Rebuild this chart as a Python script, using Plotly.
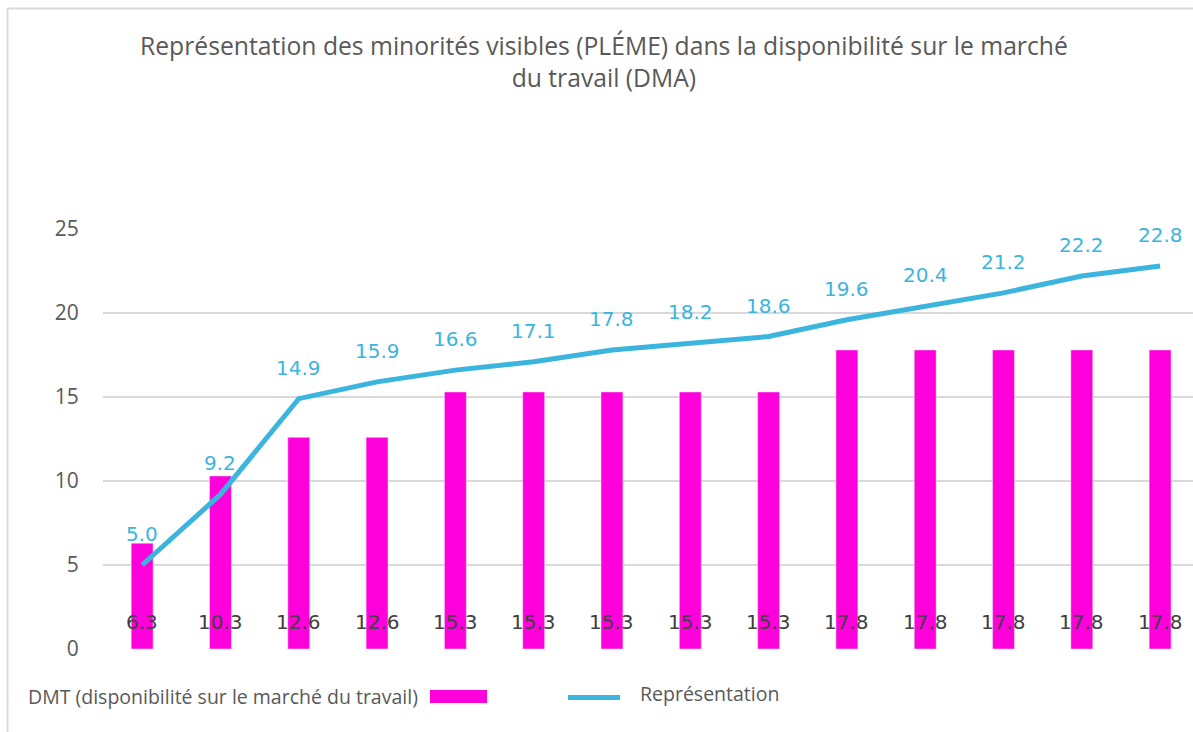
import plotly.graph_objects as go

categories = [f"C{i+1}" for i in range(14)]
dmt = [6.3, 10.3, 12.6, 12.6, 15.3, 15.3, 15.3, 15.3, 15.3, 17.8, 17.8, 17.8, 17.8, 17.8]
representation = [5.0, 9.2, 14.9, 15.9, 16.6, 17.1, 17.8, 18.2, 18.6, 19.6, 20.4, 21.2, 22.2, 22.8]
y_ticks = [0, 5, 10, 15, 20, 25]

MAGENTA = "#FF00DD"
BLUE = "#3BB4DE"
GRAY = "#595959"
FONT = "Open Sans"
NUMFONT = "DejaVu Sans"

fig = go.Figure()
xs = list(range(len(categories)))
fig.add_trace(go.Bar(x=xs, y=dmt, marker_color=MAGENTA, width=0.28,
                     name="DMT (disponibilité sur le marché du travail)", hoverinfo="y"))
fig.add_trace(go.Scatter(x=xs, y=representation, mode="lines",
                         line=dict(color=BLUE, width=5), name="Représentation"))

annotations = []
for i, v in enumerate(dmt):
    annotations.append(dict(x=i, y=0, xref="x", yref="y", text=f"{v:.1f}", showarrow=False,
                            yshift=27, font=dict(family=NUMFONT, size=20, color="#404040")))
for i, v in enumerate(representation):
    annotations.append(dict(x=i, y=v, xref="x", yref="y", text=f"{v:.1f}", showarrow=False,
                            yshift=31, font=dict(family=NUMFONT, size=20, color=BLUE)))

W, H = 1193, 732
L, R, T, B = 103, 0, 229, 83
pw, ph = W - L - R, H - T - B
def px(x):
    return (x - L) / pw
def py(y):
    return (H - B - y) / ph

# custom legend
annotations.append(dict(xref="paper", yref="paper", x=px(26), y=py(696), xanchor="left", yanchor="middle",
                        text="DMT (disponibilité sur le marché du travail)", showarrow=False,
                        font=dict(family=FONT, size=19.5, color=GRAY)))
annotations.append(dict(xref="paper", yref="paper", x=px(638), y=py(693), xanchor="left", yanchor="middle",
                        text="Représentation", showarrow=False,
                        font=dict(family=FONT, size=19.5, color=GRAY)))
# title
annotations.append(dict(xref="paper", yref="paper", x=px(604), y=py(61), xanchor="center", yanchor="middle",
                        text="Représentation des minorités visibles (PLÉME) dans la disponibilité sur le marché<br>du travail (DMA)",
                        showarrow=False, align="center",
                        font=dict(family=FONT, size=24.7, color=GRAY)))

shapes = [
    dict(type="rect", xref="paper", yref="paper", x0=px(430), x1=px(487), y0=py(703), y1=py(690),
         fillcolor=MAGENTA, line=dict(width=0)),
    dict(type="line", xref="paper", yref="paper", x0=px(568), x1=px(620), y0=py(697.5), y1=py(697.5),
         line=dict(color=BLUE, width=5)),
    dict(type="line", xref="paper", yref="paper", x0=px(7.5), x1=px(7.5), y0=py(8.5), y1=py(740),
         line=dict(color="#D9D9D9", width=2)),
    dict(type="line", xref="paper", yref="paper", x0=px(7.5), x1=px(1200), y0=py(8.5), y1=py(8.5),
         line=dict(color="#D9D9D9", width=2)),
]

fig.update_layout(
    width=W, height=H,
    margin=dict(l=L, r=R, t=T, b=B),
    paper_bgcolor="white", plot_bgcolor="white",
    showlegend=False,
    xaxis=dict(range=[-0.5, 13.42], showticklabels=False, showgrid=False, zeroline=False,
               showline=False, fixedrange=True),
    yaxis=dict(range=[0, 25], tickvals=y_ticks, showgrid=True, gridcolor="#D9D9D9", gridwidth=1.5,
               zeroline=False, showline=False, ticks="outside", ticklen=19, tickcolor="rgba(0,0,0,0)",
               tickfont=dict(family=FONT, size=21, color=GRAY)),
    annotations=annotations,
    shapes=shapes,
)

fig.write_html("out.html", config={"displayModeBar": False},
               post_script="document.body.style.margin='0';document.body.style.overflow='hidden';")
